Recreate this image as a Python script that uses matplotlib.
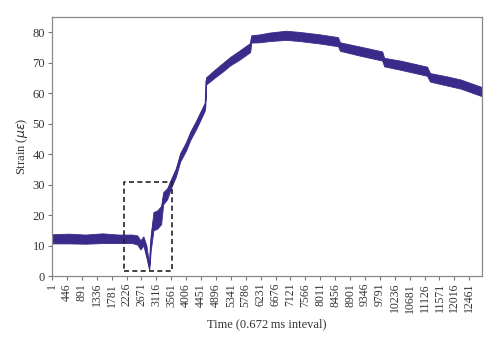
import matplotlib
matplotlib.use("Agg")
import matplotlib.pyplot as plt
import numpy as np

# Time sample index (0.672 ms interval) and strain band
time = [1, 500, 1000, 1500, 2000, 2400, 2550, 2640, 2730, 2820, 2905, 2950,
        3030, 3140, 3260, 3320, 3440, 3561, 3700, 3830, 4000, 4130, 4300, 4430, 4560, 4580,
        4600, 4870, 5100, 5320, 5600, 5920, 5950, 6200, 6500, 6990, 7400, 8000,
        8540, 8600, 9200, 9860, 9920, 10400, 11200, 11290, 11800, 12200, 12841]
strain_mid = [12.2, 12.3, 12.1, 12.4, 12.2, 12.2, 11.8, 10.2, 11.5, 8.0, 2.8, 11.0,
              18.0, 18.5, 20.0, 25.5, 27.0, 30.5, 34.0, 39.0, 42.5, 46.0, 49.5, 52.5, 55.5, 56.5,
              64.0, 66.5, 68.5, 70.5, 72.5, 75.0, 77.8, 78.0, 78.5, 79.0, 78.6, 77.8,
              76.9, 75.3, 73.8, 72.2, 70.2, 69.2, 67.2, 65.2, 64.0, 63.0, 60.5]
strain_half = [1.5, 1.6, 1.5, 1.6, 1.4, 1.4, 1.5, 1.5, 1.5, 2.0, 0.8, 2.5,
               3.0, 3.0, 3.0, 2.0, 1.8, 1.5, 1.4, 1.4, 1.4, 1.4, 1.4, 1.4, 1.3, 1.0,
               1.2, 1.3, 1.4, 1.4, 1.5, 1.5, 1.2, 1.3, 1.4, 1.5, 1.5, 1.5,
               1.5, 1.4, 1.5, 1.5, 1.4, 1.5, 1.5, 1.4, 1.5, 1.5, 1.5]

# Dashed highlight box (time range, strain range)
box_t = [2150, 3570]
box_s = [1.7, 31.0]

xticks = list(range(1, 12462, 445))
yticks = [0, 10, 20, 30, 40, 50, 60, 70, 80]

plt.rcParams['font.family'] = ['Liberation Serif', 'DejaVu Serif']
color = '#3a2b8a'

fig = plt.figure(figsize=(5.0, 3.47), dpi=100)
ax = fig.add_axes([0.104, 0.2046, 0.86, 0.7464])

t = np.array(time)
m = np.array(strain_mid)
h = np.array(strain_half)
ax.fill_between(t, m - h, m + h, color=color, linewidth=0.6, edgecolor=color)
ax.plot(t, m, color=color, linewidth=0.8)

ax.plot([box_t[0], box_t[1], box_t[1], box_t[0], box_t[0]],
        [box_s[0], box_s[0], box_s[1], box_s[1], box_s[0]],
        color='#222222', linestyle=(0, (3, 2)), linewidth=1.2)

ax.set_xlim(1, 12841)
ax.set_ylim(0, 85)
ax.set_xticks(xticks)
ax.set_xticklabels([str(v) for v in xticks], rotation=90, fontsize=8.5, color='#333333')
ax.set_yticks(yticks)
ax.set_yticklabels([str(v) for v in yticks], fontsize=9, color='#333333')
ax.tick_params(axis='both', direction='out', length=3, width=0.8, color='#777777', pad=2)
for s in ax.spines.values():
    s.set_color('#888888')
    s.set_linewidth(0.9)

ax.set_ylabel('Strain ($\\mu\\varepsilon$)', fontsize=9, color='#333333', labelpad=2)
ax.set_xlabel('Time (0.672\u2009ms inteval)', fontsize=9, color='#333333', labelpad=4)

fig.savefig('out.png', dpi=100)
